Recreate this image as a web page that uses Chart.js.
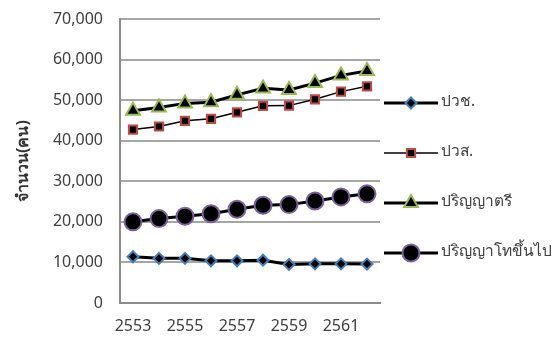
<!DOCTYPE html>
<html lang="th">
<head>
    <meta charset="UTF-8">
    <script src="https://cdn.jsdelivr.net/npm/chart.js"></script>
    <title>จำนวน(คน)</title>
    <style>
        html, body { margin: 0; padding: 0; background: #fff; }
        #wrap { width: 556px; height: 344px; }
    </style>
</head>
<body>
    <div id="wrap"><canvas id="eduChart"></canvas></div>

    <script>
        // data
        const years = ['2553', '2554', '2555', '2556', '2557', '2558', '2559', '2560', '2561', '2562'];
        const shownYears = ['2553', '2555', '2557', '2559', '2561'];
        const seriesNames = ['ปวช.', 'ปวส.', 'ปริญญาตรี', 'ปริญญาโทขึ้นไป'];
        const vocational = [11400, 11000, 11000, 10400, 10400, 10550, 9500, 9650, 9650, 9600];
        const highVocational = [42750, 43500, 44900, 45400, 47000, 48600, 48650, 50200, 52100, 53400];
        const bachelor = [47400, 48200, 49200, 49500, 51300, 52900, 52500, 54200, 56100, 57200];
        const masterUp = [20000, 20800, 21400, 22000, 23100, 24100, 24250, 25150, 26150, 26900];
        const yTicks = [0, 10000, 20000, 30000, 40000, 50000, 60000, 70000];

        const FONT = "'Noto Sans', 'DejaVu Sans', sans-serif";

        const styles = [
            { pointStyle: 'rectRot', radius: 5.5, border: '#4a7ebb', lineWidth: 3 },
            { pointStyle: 'rect', radius: 5.8, border: '#be4b48', lineWidth: 1.5 },
            { pointStyle: 'triangle', radius: 8, border: '#98b954', lineWidth: 3 },
            { pointStyle: 'circle', radius: 8.5, border: '#7d60a0', lineWidth: 3 }
        ];
        const values = [vocational, highVocational, bachelor, masterUp];

        const datasets = seriesNames.map((name, i) => ({
            label: name,
            data: values[i],
            borderColor: '#000',
            borderWidth: styles[i].lineWidth,
            pointStyle: styles[i].pointStyle,
            pointRadius: styles[i].radius,
            pointHoverRadius: styles[i].radius,
            pointBackgroundColor: '#000',
            pointBorderColor: styles[i].border,
            pointBorderWidth: 2,
            tension: 0,
            fill: false
        }));

        // legend drawn like the original: line with a marker in the middle
        const lineLegend = {
            id: 'lineLegend',
            afterDraw(chart) {
                const ctx = chart.ctx;
                const x0 = 384, x1 = 438;
                const rows = [103, 153, 203, 253];
                ctx.save();
                seriesNames.forEach((name, i) => {
                    const y = rows[i];
                    ctx.strokeStyle = '#000';
                    ctx.lineWidth = styles[i].lineWidth;
                    ctx.beginPath();
                    ctx.moveTo(x0, y);
                    ctx.lineTo(x1, y);
                    ctx.stroke();
                    ctx.fillStyle = '#000';
                    ctx.strokeStyle = styles[i].border;
                    ctx.lineWidth = 2;
                    Chart.helpers.drawPoint(ctx, {
                        pointStyle: styles[i].pointStyle,
                        radius: styles[i].radius,
                        rotation: 0,
                        borderWidth: 2
                    }, (x0 + x1) / 2, y);
                    ctx.fillStyle = '#404040';
                    ctx.font = '15.5px ' + FONT;
                    ctx.textBaseline = 'middle';
                    ctx.textAlign = 'left';
                    ctx.fillText(name, x1 + 3, y - 1);
                });
                ctx.restore();
            }
        };

        new Chart(document.getElementById('eduChart'), {
            type: 'line',
            data: { labels: years, datasets: datasets },
            plugins: [lineLegend],
            options: {
                responsive: true,
                maintainAspectRatio: false,
                animation: false,
                layout: { padding: { left: 0, right: 176, top: 0, bottom: 0 } },
                plugins: { legend: { display: false }, tooltip: { enabled: false } },
                scales: {
                    x: {
                        offset: true,
                        afterFit: axis => { axis.height = 41; },
                        grid: { display: false, drawTicks: false },
                        border: { color: '#8c8c8c', width: 2 },
                        ticks: {
                            autoSkip: false,
                            maxRotation: 0,
                            padding: 14,
                            color: '#404040',
                            font: { family: FONT, size: 16 },
                            callback: function (v, i) {
                                const lab = years[i];
                                return shownYears.includes(lab) ? lab : '';
                            }
                        }
                    },
                    y: {
                        min: 0,
                        max: 70000,
                        afterBuildTicks: axis => { axis.ticks = yTicks.map(v => ({ value: v })); },
                        afterFit: axis => {
                            axis.width = 120;
                            axis.paddingTop = 19;
                            axis.paddingBottom = 0;
                        },
                        grid: { color: '#a6a6a6', lineWidth: 2, drawTicks: false },
                        border: { color: '#8c8c8c', width: 2 },
                        ticks: {
                            padding: 17,
                            color: '#404040',
                            font: { family: FONT, size: 16 },
                            callback: v => v.toLocaleString('en-US')
                        },
                        title: {
                            display: true,
                            text: 'จำนวน(คน)',
                            color: '#333333',
                            font: { family: FONT, size: 16, weight: 'bold' },
                            padding: { top: 14, bottom: 0 }
                        }
                    }
                }
            }
        });
    </script>
</body>
</html>
